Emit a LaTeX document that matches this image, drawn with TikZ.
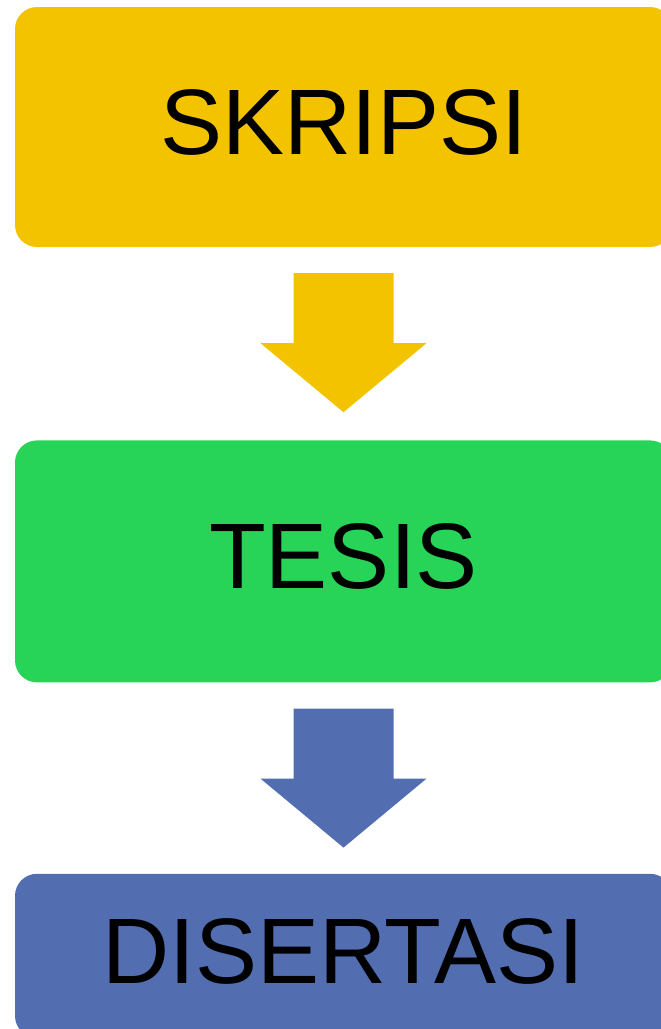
\documentclass[tikz,border=0pt]{standalone}
\usepackage{fontspec}
\setmainfont{Liberation Sans}
\usetikzlibrary{positioning,calc}
\definecolor{kuning}{HTML}{F4C300}
\definecolor{hijau}{HTML}{28D458}
\definecolor{biru}{HTML}{526EB0}
% panah blok di bawah sebuah kotak
\newcommand{\panahblok}[2]{%
\fill[#2] ($(#1.south)+(-50,26)$) -- ($(#1.south)+(50,26)$) -- ($(#1.south)+(50,96)$)
  -- ($(#1.south)+(83,96)$) -- ($(#1.south)+(0,165)$) -- ($(#1.south)+(-83,96)$)
  -- ($(#1.south)+(-50,96)$) -- cycle;}
\begin{document}
\begin{tikzpicture}[x=1pt,y=-1pt,
  kotak/.style={rounded corners=22pt, minimum width=657pt, inner sep=0pt,
    text depth=10pt, font=\fontsize{93}{100}\selectfont},
  node distance=192pt]
%
\useasboundingbox (0,0) rectangle (661,1029);
\clip (0,0) rectangle (661,1029);
%
% kotak-kotak
\node[kotak, fill=kuning, minimum height=240pt] (skripsi) at (343.5,127) {SKRIPSI};
\node[kotak, fill=hijau, minimum height=242pt, below=193pt of skripsi] (tesis) {TESIS};
\node[kotak, fill=biru, minimum height=164pt, below=191pt of tesis] (disertasi) {DISERTASI};
%
% panah
\panahblok{skripsi}{kuning}
\panahblok{tesis}{biru}
%
\end{tikzpicture}
\end{document}
